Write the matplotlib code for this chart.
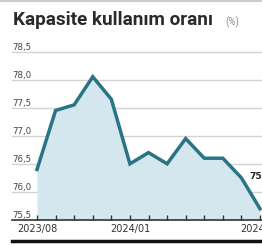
import matplotlib
matplotlib.use("Agg")
import matplotlib.pyplot as plt
from matplotlib.lines import Line2D

months = ["2023/08", "2023/09", "2023/10", "2023/11", "2023/12", "2024/01", "2024/02",
          "2024/03", "2024/04", "2024/05", "2024/06", "2024/07", "2024/08"]
values = [76.4, 77.45, 77.55, 78.05, 77.65, 76.5, 76.7, 76.5, 76.95, 76.6, 76.6, 76.25, 75.7]
yticks = [75.5, 76.0, 76.5, 77.0, 77.5, 78.0, 78.5]
xlabel_idx = [0, 5, 12]
title = "Kapasite kullanım oranı"
unit = "(%)"
last_label = "75,7"

W, H = 262, 245
fig = plt.figure(figsize=(W / 100, H / 100), dpi=100)
fig.patch.set_facecolor("white")

x0_px, x_last_px, step = 37, 260, (260 - 37) / 12
left_px, right_px = 12, 262
ytop_px, ybot_px = 51.5, 220
ax = fig.add_axes([left_px / W, 1 - ybot_px / H, (right_px - left_px) / W, (ybot_px - ytop_px) / H])
ax.set_xlim(-(x0_px - left_px) / step, 12 + (right_px - x_last_px) / step)
ax.set_ylim(75.5, 78.5)

xs = list(range(len(values)))
ax.fill_between(xs, values, 75.5, color="#d4e6ee", lw=0, zorder=1)
for v in yticks[1:]:
    ax.axhline(v, color="#d3d3d3", lw=1.0, zorder=0.5)
ax.plot(xs, values, color="#2a7583", lw=2.5, solid_joinstyle="miter", zorder=3, clip_on=False)

for s in ax.spines.values():
    s.set_visible(False)
ax.axhline(75.5, color="#333333", lw=1.2, zorder=4, clip_on=False)
ax.set_yticks([])
ax.set_xticks(xs)
ax.set_xticklabels([months[i] if i in xlabel_idx else "" for i in xs],
                   family="Liberation Sans Narrow", fontsize=7, color="#333333")
ax.tick_params(axis="x", direction="in", length=3.5, width=1, color="#333333", pad=3)

for v in yticks:
    ax.text(0.0, v, f"{v:.1f}".replace(".", ","), transform=ax.get_yaxis_transform(),
            ha="left", va="bottom", fontsize=6.2, family="Liberation Sans Narrow",
            color="#444444")

ax.annotate(last_label, xy=(xs[-1], values[-1]), xytext=(-8, 23), textcoords="offset points",
            ha="left", va="center", fontsize=6.5, fontweight="bold",
            family="Liberation Sans Narrow", color="#222222", annotation_clip=False)

fig.text(13 / W, 1 - 25 / H, title, fontsize=13.6, fontweight="bold", family="Roboto",
         color="#2a2a2a", ha="left", va="baseline")
fig.text(225 / W, 1 - 25 / H, unit, fontsize=7, family="Roboto", color="#888888",
         ha="left", va="baseline")

fig.add_artist(Line2D([0, 1], [1 - 1 / H, 1 - 1 / H], color="#cccccc", lw=1.5))
fig.add_artist(Line2D([12 / W, 1], [1 - 241 / H, 1 - 241 / H], color="#111111", lw=2.5))

fig.savefig("out.png", dpi=100)
